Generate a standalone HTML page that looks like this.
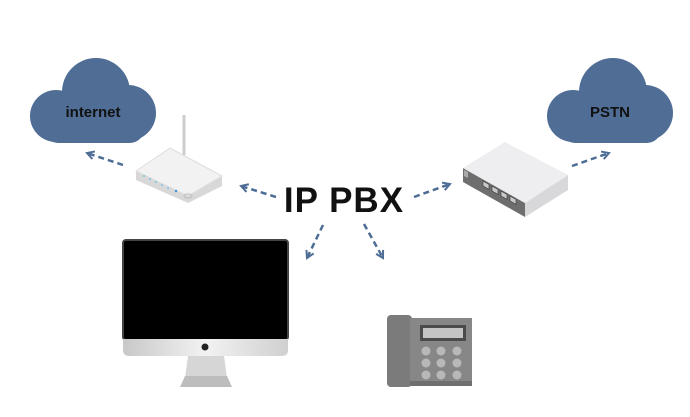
<!DOCTYPE html>
<html><head><style>
body{margin:0;width:690px;height:412px;background:#fff;overflow:hidden;font-family:"Liberation Sans",sans-serif}
</style></head><body>
<svg width="690" height="412" viewBox="0 0 690 412">
<defs>
<marker id="ah" viewBox="0 0 10 10" refX="8" refY="5" markerWidth="4" markerHeight="4" orient="auto"><path d="M1,1 L8,5 L1,9" fill="none" stroke="#4e6d96" stroke-width="2"/></marker>
<linearGradient id="chin" x1="0" x2="1"><stop offset="0" stop-color="#c8c8c8"/><stop offset=".5" stop-color="#f2f2f2"/><stop offset="1" stop-color="#d0d0d0"/></linearGradient>
</defs>
<!-- clouds -->
<g fill="#4f6d95">
<g>
<rect x="44" y="110" width="100" height="33" rx="14"/>
<circle cx="56" cy="116" r="26"/>
<circle cx="96" cy="92" r="34"/>
<circle cx="128" cy="113" r="28"/>
</g>
<g transform="translate(517,0)">
<rect x="44" y="110" width="100" height="33" rx="14"/>
<circle cx="56" cy="116" r="26"/>
<circle cx="96" cy="92" r="34"/>
<circle cx="128" cy="113" r="28"/>
</g>
</g>
<text x="93" y="117" font-size="15" font-weight="bold" text-anchor="middle" fill="#111">internet</text>
<text x="610" y="117" font-size="15" font-weight="bold" text-anchor="middle" fill="#111">PSTN</text>
<!-- arrows -->
<g stroke="#4e6d96" stroke-width="2.5" stroke-dasharray="6,4" fill="none" marker-end="url(#ah)">
<line x1="123" y1="165" x2="87" y2="153"/>
<line x1="276" y1="197" x2="241" y2="186"/>
<line x1="414" y1="197" x2="450" y2="184"/>
<line x1="572" y1="166" x2="609" y2="153"/>
<line x1="323" y1="225" x2="307" y2="258"/>
<line x1="364" y1="224" x2="383" y2="258"/>
</g>
<text x="344" y="212" font-size="35" font-weight="bold" text-anchor="middle" fill="#111" letter-spacing="1">IP PBX</text>
<!-- router -->
<rect x="182.5" y="115" width="3" height="40" fill="#ccc"/>
<path d="M136,171 L136,180 L188,203 L222,186 L222,176 Z" fill="#d8d8d8"/>
<path d="M136,171 L170,148 L222,176 L188,196 Z" fill="#f2f2f3" stroke="#ddd"/>
<g fill="#7fc4e8"><circle cx="144" cy="176" r="1"/><circle cx="150" cy="179" r="1"/><circle cx="156" cy="182" r="1"/><circle cx="162" cy="185" r="1"/><circle cx="168" cy="188" r="1"/><circle cx="176" cy="191" r="1.2" fill="#3a8fe0"/></g>
<ellipse cx="188" cy="196" rx="4" ry="2" fill="none" stroke="#bbb"/>
<!-- switch -->
<path d="M463,168 L525,203 L525,217 L463,182 Z" fill="#6e6e6e"/>
<path d="M525,203 L568,175 L568,190 L525,217 Z" fill="#d8d8da"/>
<path d="M463,168 L505,142 L568,175 L525,203 Z" fill="#eeeef0"/>
<g fill="#c8c8c8" stroke="#333" stroke-width=".6">
<path d="M483,181 L489,184.4 L489,189.4 L483,186 Z"/>
<path d="M492,186 L498,189.4 L498,194.4 L492,191 Z"/>
<path d="M501,191 L507,194.4 L507,199.4 L501,196 Z"/>
<path d="M510,196 L516,199.4 L516,204.4 L510,201 Z"/>
</g>
<path d="M464,170 L468,172 L468,178 L464,176 Z" fill="#aaa"/>
<!-- monitor -->
<rect x="123" y="240" width="165" height="100" rx="3" fill="#000" stroke="#444" stroke-width="2"/>
<path d="M123,339 H288 V350 Q288,356 282,356 H129 Q123,356 123,350 Z" fill="url(#chin)"/>
<circle cx="205" cy="347" r="3.5" fill="#222"/>
<path d="M188,356 H224 L227,378 H185 Z" fill="#d6d6d6"/>
<path d="M185,376 H227 L232,387 H180 Z" fill="#bdbdbd"/>
<!-- phone -->
<rect x="387" y="315" width="25" height="72" rx="4" fill="#7b7b7b"/>
<rect x="410" y="318" width="62" height="68" fill="#878787"/>
<rect x="410" y="381" width="62" height="5" fill="#6f6f6f"/>
<rect x="420" y="325" width="46" height="16" fill="#4b4b4b"/>
<rect x="423" y="328" width="40" height="10" fill="#c4c4c4"/>
<g fill="#b8b8b8">
<circle cx="426" cy="351" r="4.5"/><circle cx="441" cy="351" r="4.5"/><circle cx="457" cy="351" r="4.5"/>
<circle cx="426" cy="363" r="4.5"/><circle cx="441" cy="363" r="4.5"/><circle cx="457" cy="363" r="4.5"/>
<circle cx="426" cy="375" r="4.5"/><circle cx="441" cy="375" r="4.5"/><circle cx="457" cy="375" r="4.5"/>
</g>
</svg>
</body></html>
